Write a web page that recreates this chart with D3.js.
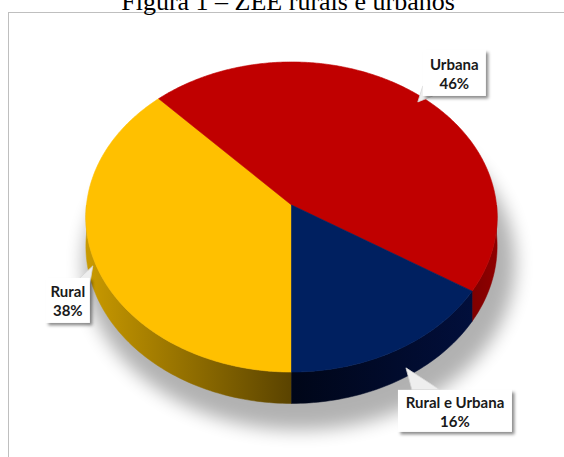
<!DOCTYPE html>
<html>
<head>
<meta charset="utf-8">
<script src="https://cdn.jsdelivr.net/npm/d3@7"></script>
<style>
  html, body { margin: 0; padding: 0; background: #fff; }
  svg { display: block; }
</style>
</head>
<body>
<svg id="chart" width="564" height="457"></svg>
<script>
// ---- data ----
const title = "Figura 1 \u2013 ZEE rurais e urbanos";
const categories = ["Rural", "Urbana", "Rural e Urbana"];
const values = [38, 46, 16];
const valueLabels = ["38%", "46%", "16%"];
const topColors = ["#FFC000", "#C00000", "#002060"];
const sideLight = ["#c99a00", "#8f0000", "#021040"];
const sideDark = ["#5a4300", "#4a0000", "#000618"];

// ---- layout ----
const W = 564, H = 457;
const cx = 291.5, cy = 205;      // projected pie centre
const A = 205, B = 154.1;         // horizontal / depth radii
const E = -0.0774;                // perspective factor
const DEPTH = 29;                 // thickness
// label box centre offsets relative to rim point at slice mid-angle (layout only)
const labelOffsets = [[-27.5, 37], [39.5, -20], [57.5, 61]];
const boxSizes = [[44, 45], [63, 46], [114, 42]];

const svg = d3.select("#chart");
const defs = svg.append("defs");

const blur = defs.append("filter").attr("id", "pieShadow")
  .attr("x", "-20%").attr("y", "-20%").attr("width", "140%").attr("height", "140%");
blur.append("feGaussianBlur").attr("stdDeviation", 9);

const drop = defs.append("filter").attr("id", "boxShadow")
  .attr("x", "-20%").attr("y", "-20%").attr("width", "150%").attr("height", "150%");
drop.append("feDropShadow").attr("dx", 2.5).attr("dy", 2.5)
  .attr("stdDeviation", 1.8).attr("flood-color", "#000").attr("flood-opacity", 0.45);

// frame & title
svg.append("rect").attr("x", 8.5).attr("y", 12.5).attr("width", 620).attr("height", 520)
  .attr("fill", "#fff").attr("stroke", "#bfbfbf").attr("stroke-width", 1);
svg.append("text").attr("x", 288).attr("y", 10).attr("text-anchor", "middle")
  .attr("font-family", "Liberation Serif, serif").attr("font-size", 26).attr("fill", "#000")
  .text(title);

// projection: parametric angle t, vertical drop dz
function proj(t, r, dz) {
  const w = 1 + E * r * Math.sin(t);
  return [cx + A * r * Math.cos(t) / w, cy + (B * r * Math.sin(t) + dz) / w];
}

const pie = d3.pie().sort(null).value(d => d)(values);
const T0 = Math.PI / 2; // start at bottom, run clockwise on screen
const arcs = pie.map((p, i) => ({
  i, t0: T0 + p.startAngle, t1: T0 + p.endAngle, mid: T0 + (p.startAngle + p.endAngle) / 2
}));

const xs = d3.scaleLinear().domain([-1, 1]).range([cx - A, cx + A]);

// shadow under pie
const shadowPts = d3.range(0, 361, 3).map(a => {
  const t = a * Math.PI / 180;
  const p = proj(t, 1.05, DEPTH + 16);
  return [p[0] + 8, p[1]];
});
svg.append("path").attr("d", d3.line()(shadowPts) + "Z")
  .attr("fill", "#000").attr("opacity", 0.3).attr("filter", "url(#pieShadow)");

// gradients
arcs.forEach(a => {
  const g = defs.append("linearGradient").attr("id", "side" + a.i)
    .attr("gradientUnits", "userSpaceOnUse")
    .attr("x1", xs(-1)).attr("x2", xs(1)).attr("y1", 0).attr("y2", 0);
  if (a.i === 0) {
    g.append("stop").attr("offset", 0).attr("stop-color", sideLight[0]);
    g.append("stop").attr("offset", 0.5).attr("stop-color", sideDark[0]);
  } else if (a.i === 1) {
    g.append("stop").attr("offset", 0.75).attr("stop-color", sideDark[1]);
    g.append("stop").attr("offset", 1).attr("stop-color", sideLight[1]);
  } else {
    g.append("stop").attr("offset", 0.5).attr("stop-color", sideDark[2]);
    g.append("stop").attr("offset", 1).attr("stop-color", sideLight[2]);
  }
});

// side faces (front half only)
function sidePath(ta, tb) {
  const n = Math.max(4, Math.ceil((tb - ta) / 0.02));
  const top = d3.range(n + 1).map(k => proj(ta + (tb - ta) * k / n, 1, 0));
  const bot = d3.range(n + 1).map(k => proj(tb - (tb - ta) * k / n, 1, DEPTH));
  return d3.line()(top.concat(bot)) + "Z";
}
const sideG = svg.append("g");
arcs.forEach(a => {
  [[0, Math.PI], [2 * Math.PI, 3 * Math.PI]].forEach(([lo, hi]) => {
    const ta = Math.max(a.t0, lo), tb = Math.min(a.t1, hi);
    if (tb > ta) {
      sideG.append("path").attr("d", sidePath(ta, tb))
        .attr("fill", `url(#side${a.i})`).attr("stroke", `url(#side${a.i})`).attr("stroke-width", 0.5);
    }
  });
});

// top faces
const topG = svg.append("g");
arcs.forEach(a => {
  const n = Math.ceil((a.t1 - a.t0) / 0.01);
  const pts = [[cx, cy]].concat(d3.range(n + 1).map(k => proj(a.t0 + (a.t1 - a.t0) * k / n, 1, 0)));
  topG.append("path").attr("d", d3.line()(pts) + "Z")
    .attr("fill", topColors[a.i]).attr("stroke", topColors[a.i]).attr("stroke-width", 0.6)
    .attr("stroke-linejoin", "round");
});

// labels
const labG = svg.append("g").attr("font-family", "Lato, 'Open Sans', sans-serif")
  .attr("font-weight", 700).attr("font-size", 15).attr("fill", "#1a1a1a");
arcs.forEach(a => {
  const rim = proj(a.mid, 1, 0);
  const bx = rim[0] + labelOffsets[a.i][0], by = rim[1] + labelOffsets[a.i][1];
  const [bw, bh] = boxSizes[a.i];
  const L = bx - bw / 2, R = bx + bw / 2, T = by - bh / 2, Bt = by + bh / 2;
  let ptr;
  if (a.i === 0) ptr = [[R - 10, T], [R + 3, T - 12], [R, T + 6]];
  else if (a.i === 1) ptr = [[L, Bt - 10], [L - 5, Bt + 6], [L + 10, Bt]];
  else ptr = [[L + 14, T], [L + 8, T - 22], [L + 42, T]];
  labG.append("path").attr("d", d3.line()(ptr) + "Z")
    .attr("fill", "#eeeeee").attr("stroke", "#d5d5d5").attr("stroke-width", 0.8);
  labG.append("rect").attr("x", L).attr("y", T)
    .attr("width", bw).attr("height", bh).attr("fill", "#fff").attr("filter", "url(#boxShadow)");
  labG.append("text").attr("x", bx).attr("y", by - 3).attr("text-anchor", "middle").text(categories[a.i]);
  labG.append("text").attr("x", bx).attr("y", by + 16).attr("text-anchor", "middle").text(valueLabels[a.i]);
});
</script>
</body>
</html>
